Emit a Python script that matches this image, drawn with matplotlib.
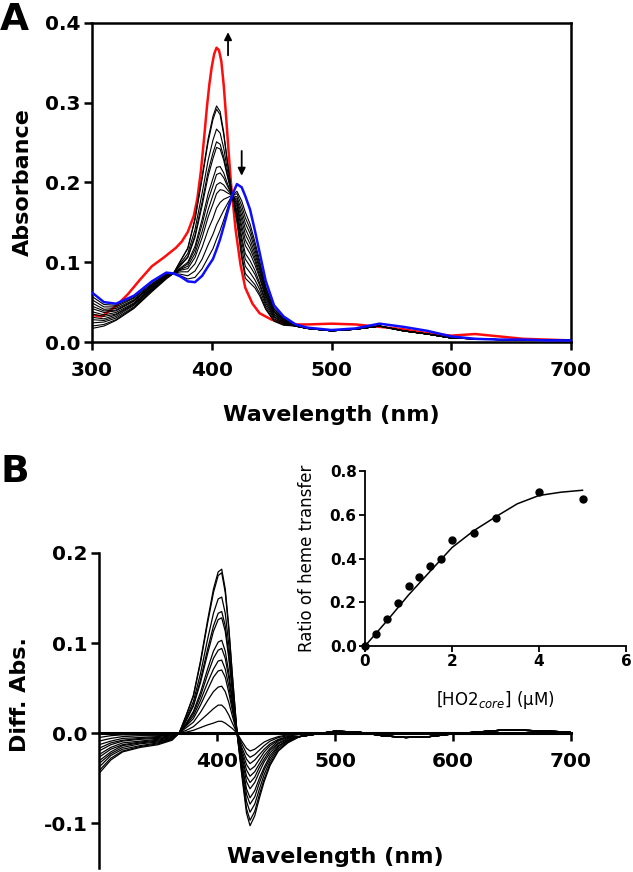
import numpy as np
import matplotlib.pyplot as plt

plt.rcParams['font.family'] = 'DejaVu Sans'

# wavelength grid of the Soret region (nm) and the flat tail after it
wl = [300, 310, 320, 335, 350, 362, 368, 374, 380, 386, 392, 397, 401, 404, 407,
      410, 413, 417, 421, 425, 428, 432, 436, 440, 445, 452, 460]
wl_tail = [470, 480, 500, 520, 540, 560, 580, 600, 620, 640, 660, 680, 700]

# panel A: starting spectrum (blue)
blue = [0.062, 0.050, 0.048, 0.058, 0.076, 0.087, 0.086, 0.082, 0.076, 0.075, 0.083,
        0.095, 0.104, 0.116, 0.129, 0.145, 0.162, 0.184, 0.198, 0.194, 0.183, 0.166,
        0.140, 0.112, 0.077, 0.046, 0.032]
blue_tail = [0.022, 0.018, 0.015, 0.017, 0.023, 0.019, 0.014, 0.007, 0.004, 0.003,
             0.003, 0.002, 0.002]

# panel A: titration spectra (black)
black = [
    [0.017, 0.020, 0.027, 0.042, 0.063, 0.079, 0.086, 0.102, 0.118, 0.155, 0.208, 0.255, 0.283, 0.296,
     0.289, 0.263, 0.227, 0.184, 0.151, 0.105, 0.080, 0.074, 0.068, 0.058, 0.041, 0.026, 0.021],
    [0.020, 0.022, 0.028, 0.043, 0.064, 0.080, 0.086, 0.102, 0.117, 0.153, 0.205, 0.251, 0.279, 0.292,
     0.285, 0.260, 0.226, 0.184, 0.154, 0.110, 0.086, 0.079, 0.072, 0.061, 0.043, 0.027, 0.022],
    [0.024, 0.025, 0.030, 0.044, 0.065, 0.080, 0.086, 0.099, 0.111, 0.141, 0.187, 0.228, 0.253, 0.267,
     0.262, 0.243, 0.216, 0.184, 0.158, 0.118, 0.095, 0.087, 0.078, 0.066, 0.046, 0.029, 0.023],
    [0.028, 0.027, 0.032, 0.046, 0.066, 0.081, 0.086, 0.097, 0.107, 0.134, 0.176, 0.214, 0.237, 0.251,
     0.248, 0.232, 0.210, 0.184, 0.162, 0.126, 0.104, 0.095, 0.085, 0.071, 0.049, 0.031, 0.024],
    [0.031, 0.029, 0.034, 0.047, 0.067, 0.081, 0.086, 0.096, 0.106, 0.131, 0.171, 0.208, 0.230, 0.244,
     0.242, 0.228, 0.208, 0.184, 0.165, 0.132, 0.111, 0.102, 0.090, 0.074, 0.052, 0.032, 0.024],
    [0.035, 0.032, 0.035, 0.048, 0.068, 0.082, 0.086, 0.093, 0.100, 0.120, 0.154, 0.186, 0.205, 0.219,
     0.220, 0.212, 0.199, 0.184, 0.170, 0.140, 0.121, 0.111, 0.097, 0.080, 0.055, 0.034, 0.025],
    [0.038, 0.034, 0.037, 0.049, 0.069, 0.083, 0.086, 0.092, 0.098, 0.116, 0.148, 0.178, 0.196, 0.210,
     0.212, 0.206, 0.196, 0.184, 0.173, 0.146, 0.128, 0.117, 0.102, 0.083, 0.058, 0.035, 0.026],
    [0.042, 0.037, 0.039, 0.051, 0.070, 0.083, 0.086, 0.091, 0.095, 0.111, 0.139, 0.166, 0.184, 0.197,
     0.200, 0.197, 0.191, 0.184, 0.176, 0.153, 0.135, 0.123, 0.106, 0.087, 0.060, 0.037, 0.027],
    [0.045, 0.039, 0.040, 0.052, 0.071, 0.084, 0.086, 0.090, 0.092, 0.106, 0.131, 0.157, 0.173, 0.186,
     0.191, 0.190, 0.187, 0.184, 0.179, 0.159, 0.142, 0.129, 0.111, 0.091, 0.063, 0.038, 0.028],
    [0.049, 0.041, 0.042, 0.053, 0.072, 0.085, 0.086, 0.088, 0.088, 0.098, 0.119, 0.141, 0.155, 0.168,
     0.175, 0.179, 0.181, 0.184, 0.182, 0.165, 0.149, 0.136, 0.116, 0.094, 0.065, 0.039, 0.028],
    [0.053, 0.044, 0.044, 0.055, 0.073, 0.085, 0.086, 0.085, 0.083, 0.089, 0.104, 0.122, 0.135, 0.147,
     0.156, 0.165, 0.173, 0.184, 0.186, 0.171, 0.156, 0.142, 0.121, 0.098, 0.068, 0.041, 0.029],
    [0.057, 0.047, 0.046, 0.056, 0.075, 0.086, 0.086, 0.083, 0.079, 0.081, 0.092, 0.106, 0.117, 0.129,
     0.140, 0.153, 0.167, 0.184, 0.189, 0.177, 0.163, 0.148, 0.126, 0.102, 0.070, 0.042, 0.030],
]
black_tail = [0.020, 0.017, 0.014, 0.016, 0.020, 0.014, 0.010, 0.005, 0.004, 0.003,
              0.002, 0.002, 0.002]

# panel A: reference spectrum (red)
red_wl = [300, 308, 320, 330, 340, 350, 360, 370, 375, 380, 385, 388, 391, 394, 396,
          398, 400, 402, 404, 406, 408, 410, 412, 414, 416, 420, 424, 428, 434, 440,
          450, 460, 470, 480, 500, 520, 540, 560, 580, 600, 620, 640, 660, 680, 700]
red = [0.034, 0.032, 0.045, 0.060, 0.078, 0.095, 0.106, 0.118, 0.126, 0.138, 0.158,
       0.180, 0.215, 0.262, 0.295, 0.323, 0.345, 0.361, 0.369, 0.366, 0.352, 0.322,
       0.282, 0.240, 0.200, 0.140, 0.097, 0.068, 0.048, 0.036, 0.028, 0.024, 0.022,
       0.022, 0.023, 0.022, 0.019, 0.016, 0.011, 0.008, 0.010, 0.007, 0.004, 0.003,
       0.002]

# panel B: difference spectra
diff = [
    [-0.045, -0.030, -0.021, -0.016, -0.013, -0.008, 0.000, 0.020, 0.042, 0.080, 0.125, 0.160, 0.179, 0.182,
     0.160, 0.118, 0.065, 0.000, -0.047, -0.089, -0.103, -0.092, -0.072, -0.054, -0.036, -0.020, -0.011],
    [-0.042, -0.028, -0.020, -0.015, -0.012, -0.007, 0.000, 0.020, 0.041, 0.078, 0.122, 0.156, 0.175, 0.178,
     0.156, 0.115, 0.064, 0.000, -0.044, -0.084, -0.097, -0.087, -0.068, -0.051, -0.034, -0.019, -0.010],
    [-0.038, -0.025, -0.018, -0.014, -0.011, -0.007, 0.000, 0.017, 0.035, 0.066, 0.104, 0.133, 0.149, 0.151,
     0.133, 0.098, 0.054, 0.000, -0.040, -0.076, -0.088, -0.079, -0.062, -0.046, -0.031, -0.017, -0.009],
    [-0.034, -0.023, -0.016, -0.012, -0.010, -0.006, 0.000, 0.015, 0.031, 0.059, 0.093, 0.119, 0.133, 0.135,
     0.119, 0.087, 0.048, 0.000, -0.036, -0.068, -0.079, -0.071, -0.055, -0.041, -0.028, -0.015, -0.008],
    [-0.031, -0.021, -0.014, -0.011, -0.009, -0.006, 0.000, 0.014, 0.030, 0.056, 0.088, 0.113, 0.126, 0.128,
     0.113, 0.083, 0.046, 0.000, -0.033, -0.062, -0.072, -0.064, -0.050, -0.038, -0.025, -0.014, -0.008],
    [-0.027, -0.018, -0.013, -0.010, -0.008, -0.005, 0.000, 0.011, 0.024, 0.045, 0.071, 0.091, 0.101, 0.103,
     0.091, 0.067, 0.037, 0.000, -0.028, -0.054, -0.062, -0.055, -0.043, -0.032, -0.022, -0.012, -0.007],
    [-0.024, -0.016, -0.011, -0.009, -0.007, -0.004, 0.000, 0.010, 0.022, 0.041, 0.065, 0.083, 0.092, 0.094,
     0.083, 0.061, 0.034, 0.000, -0.025, -0.048, -0.055, -0.049, -0.038, -0.029, -0.019, -0.011, -0.006],
    [-0.020, -0.013, -0.009, -0.007, -0.006, -0.004, 0.000, 0.009, 0.019, 0.036, 0.056, 0.071, 0.080, 0.081,
     0.071, 0.052, 0.029, 0.000, -0.022, -0.041, -0.048, -0.043, -0.034, -0.025, -0.017, -0.009, -0.005],
    [-0.017, -0.011, -0.008, -0.006, -0.005, -0.003, 0.000, 0.008, 0.016, 0.031, 0.048, 0.062, 0.069, 0.070,
     0.062, 0.045, 0.025, 0.000, -0.019, -0.035, -0.041, -0.037, -0.029, -0.021, -0.014, -0.008, -0.004],
    [-0.013, -0.009, -0.006, -0.005, -0.004, -0.002, 0.000, 0.006, 0.012, 0.023, 0.036, 0.046, 0.051, 0.052,
     0.046, 0.034, 0.019, 0.000, -0.016, -0.029, -0.034, -0.030, -0.024, -0.018, -0.012, -0.007, -0.004],
    [-0.009, -0.006, -0.004, -0.003, -0.003, -0.002, 0.000, 0.003, 0.007, 0.014, 0.021, 0.027, 0.031, 0.031,
     0.027, 0.020, 0.011, 0.000, -0.012, -0.023, -0.027, -0.024, -0.019, -0.014, -0.009, -0.005, -0.003],
    [-0.005, -0.003, -0.002, -0.002, -0.001, -0.001, 0.000, 0.001, 0.003, 0.006, 0.009, 0.011, 0.013, 0.013,
     0.011, 0.008, 0.005, 0.000, -0.009, -0.017, -0.020, -0.018, -0.014, -0.010, -0.007, -0.004, -0.002],
]
diff_tail = [-0.004, -0.002, 0.002, 0.001, -0.003, -0.005, -0.004, -0.001, 0.001, 0.003,
             0.003, 0.002, 0.001]

# inset: ratio of heme transfer vs [HO2core]
ho2 = [0, 0.25, 0.5, 0.75, 1.0, 1.25, 1.5, 1.75, 2.0, 2.5, 3.0, 4.0, 5.0]
ratio = [0.0, 0.056, 0.125, 0.198, 0.274, 0.317, 0.365, 0.397, 0.484, 0.517, 0.584, 0.703, 0.670]
fit_x = [0, 0.5, 1.0, 1.5, 2.0, 2.5, 3.0, 3.5, 4.0, 4.5, 5.0]
fit_y = [0.0, 0.114, 0.233, 0.342, 0.450, 0.527, 0.590, 0.650, 0.688, 0.703, 0.712]

W, H = 633, 872
fig = plt.figure(figsize=(W / 100, H / 100), dpi=100)

# ---------------- panel A ----------------
axA = fig.add_axes([92 / W, 1 - 342 / H, 479 / W, 319 / H])
axA.plot(red_wl, red, color='#ff0d0d', lw=1.8, zorder=1)
for y in black:
    axA.plot(wl + wl_tail, y + black_tail, color='black', lw=0.8, zorder=2)
axA.plot(wl + wl_tail, blue + blue_tail, color='#0d0dff', lw=1.8, zorder=3)
axA.set_xlim(300, 700)
axA.set_ylim(0, 0.4)
axA.set_xticks([300, 400, 500, 600, 700])
axA.set_yticks([0.0, 0.1, 0.2, 0.3, 0.4])
axA.set_yticklabels(['0.0', '0.1', '0.2', '0.3', '0.4'])
for s in axA.spines.values():
    s.set_linewidth(1.8)
axA.tick_params(direction='out', length=6, width=1.8, labelsize=14.5)
axA.tick_params(axis='x', pad=8)
axA.tick_params(axis='y', pad=2)
for t in axA.get_xticklabels() + axA.get_yticklabels():
    t.set_fontweight('bold')
axA.set_ylabel('Absorbance', fontsize=16, fontweight='bold')
axA.yaxis.set_label_coords(-0.123, 0.5)
axA.set_xlabel('Wavelength (nm)', fontsize=16, fontweight='bold')
axA.xaxis.set_label_coords(0.499, -0.196)
axA.annotate('', xy=(413.6, 0.392), xytext=(413.6, 0.356),
             arrowprops=dict(arrowstyle='-|>', color='black', lw=1.3, mutation_scale=11))
axA.annotate('', xy=(425, 0.205), xytext=(425, 0.243),
             arrowprops=dict(arrowstyle='-|>', color='black', lw=1.3, mutation_scale=11))
fig.text(0.0, 1 - 20 / H, 'A', fontsize=27, fontweight='bold', ha='left', va='center')

# ---------------- panel B ----------------
axB = fig.add_axes([99 / W, 1 - 868 / H, 472 / W, 315 / H])
for y in diff:
    axB.plot(wl + wl_tail, y + diff_tail, color='black', lw=0.9)
axB.set_xlim(300, 700)
axB.set_ylim(-0.15, 0.2)
axB.spines['top'].set_visible(False)
axB.spines['right'].set_visible(False)
axB.spines['bottom'].set_position(('data', 0))
axB.spines['bottom'].set_linewidth(2.2)
axB.spines['left'].set_linewidth(1.8)
axB.set_xticks([400, 500, 600, 700])
axB.set_yticks([-0.1, 0.0, 0.1, 0.2])
axB.set_yticklabels(['-0.1', '0.0', '0.1', '0.2'])
axB.tick_params(direction='out', length=6, width=1.8, labelsize=14.5)
axB.tick_params(axis='x', pad=8)
axB.tick_params(axis='y', pad=2)
for t in axB.get_xticklabels() + axB.get_yticklabels():
    t.set_fontweight('bold')
axB.set_ylabel('Diff. Abs.', fontsize=16, fontweight='bold')
axB.yaxis.set_label_coords(-0.146, 0.55)
axB.text(0.5, 0.035, 'Wavelength (nm)', transform=axB.transAxes, fontsize=16,
         fontweight='bold', ha='center', va='center')
fig.text(0.0, 1 - 472 / H, 'B', fontsize=27, fontweight='bold', ha='left', va='center')

# ---------------- inset ----------------
axI = fig.add_axes([365 / W, 1 - 646 / H, 261 / W, 175 / H])
axI.plot(fit_x, fit_y, color='black', lw=1.1, zorder=2)
axI.plot(ho2, ratio, 'o', color='black', ms=5, clip_on=False, zorder=3)
axI.set_xlim(0, 6)
axI.set_ylim(0, 0.8)
axI.set_xticks([0, 2, 4, 6])
axI.set_yticks([0.0, 0.2, 0.4, 0.6, 0.8])
axI.set_yticklabels(['0.0', '0.2', '0.4', '0.6', '0.8'])
axI.spines['top'].set_visible(False)
axI.spines['right'].set_visible(False)
for s in ['left', 'bottom']:
    axI.spines[s].set_linewidth(1.3)
axI.tick_params(direction='out', length=4, width=1.3, labelsize=11, pad=2)
for t in axI.get_xticklabels() + axI.get_yticklabels():
    t.set_fontweight('bold')
axI.set_ylabel('Ratio of heme transfer', fontsize=12)
axI.yaxis.set_label_coords(-0.186, 0.5)
axI.set_xlabel('[HO2$_{core}$] (μM)', fontsize=12)
axI.xaxis.set_label_coords(0.5, -0.246)

fig.savefig('out.png', dpi=100)
